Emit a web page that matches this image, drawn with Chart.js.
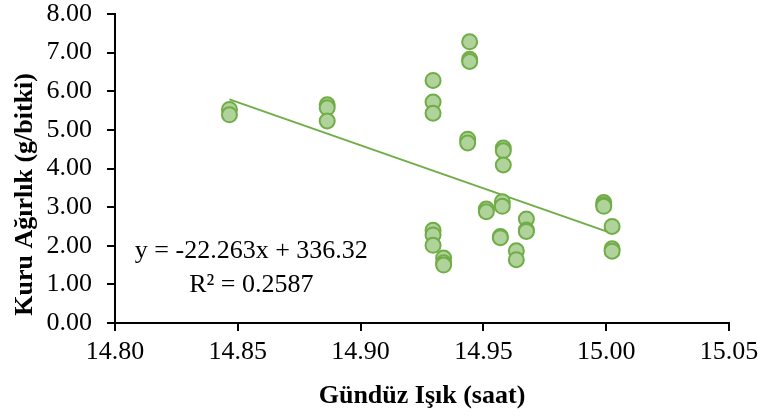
<!DOCTYPE html>
<html>
<head>
<meta charset="utf-8">
<script src="https://cdn.jsdelivr.net/npm/chart.js@4.4.1/dist/chart.umd.min.js"></script>
<style>
  body { margin: 0; background: #fff; }
  #c { display: block; }
</style>
</head>
<body>
<canvas id="c" width="760" height="417"></canvas>
<script>
// gündüz ışık süresi (saat) ve kuru ağırlık (g/bitki)
var gunduzIsik = [
	14.8466, 14.8466,
	14.8864, 14.8864, 14.8864,
	14.9295, 14.9295, 14.9295, 14.9295, 14.9295, 14.9295,
	14.9338, 14.9338, 14.9338,
	14.9444, 14.9444, 14.9444, 14.9436, 14.9436,
	14.9512, 14.9512,
	14.9569, 14.9569, 14.9577, 14.9577,
	14.9581, 14.9581, 14.9581,
	14.9634, 14.9634,
	14.9675, 14.9675, 14.9675,
	14.9990, 14.9990, 14.9990,
	15.0024, 15.0024, 15.0024
];
var kuruAgirlik = [
	5.53, 5.39,
	5.65, 5.57, 5.23,
	6.28, 5.72, 5.43, 2.40, 2.28, 2.01,
	1.68, 1.56, 1.50,
	7.28, 6.83, 6.77, 4.76, 4.66,
	2.95, 2.88,
	2.24, 2.21, 3.14, 3.02,
	4.53, 4.46, 4.09,
	1.87, 1.64,
	2.69, 2.41, 2.37,
	3.12, 3.06, 3.02,
	2.50, 1.92, 1.86
];
// doğrusal trend çizgisinin uçları
var trendX = [14.8466, 15.0024];
var trendY = [5.79, 2.32];
var denklem = ['y = -22.263x + 336.32', 'R² = 0.2587'];
var yBaslik = 'Kuru Ağırlık (g/bitki)';
var xBaslik = 'Gündüz Işık (saat)';

var xMin = 14.80, xMax = 15.05, xStep = 0.05;
var yMin = 0, yMax = 8, yStep = 1;

var noktalar = gunduzIsik.map(function(v, i){ return {x: v, y: kuruAgirlik[i]}; });
var trend = trendX.map(function(v, i){ return {x: v, y: trendY[i]}; });

var serif = '"Liberation Serif", "Times New Roman", serif';

var yaziPlugin = {
	id: 'yazilar',
	afterDraw: function(chart){
		var c = chart.ctx;
		var xs = chart.scales.x, ys = chart.scales.y;
		var cx = xs.getPixelForValue(14.8555);
		c.save();
		c.fillStyle = '#000';
		c.font = '26px ' + serif;
		c.textAlign = 'center';
		c.textBaseline = 'alphabetic';
		c.fillText(denklem[0], cx, ys.getPixelForValue(1.69));
		c.fillText(denklem[1], cx, ys.getPixelForValue(0.81));
		// dikey eksen başlığı
		c.translate(25, ys.getPixelForValue(3.33));
		c.rotate(-Math.PI / 2);
		c.font = 'bold 26px ' + serif;
		c.textBaseline = 'middle';
		c.fillText(yBaslik, 0, 0);
		c.restore();
	}
};

var ctx = document.getElementById('c');
var grafik = new Chart(ctx, {
	type: 'scatter',
	data: {
		datasets: [{
			label: 'Kuru Ağırlık',
			data: noktalar,
			pointRadius: 7.5,
			pointHoverRadius: 7.5,
			pointBorderWidth: 2,
			pointBackgroundColor: '#AFD39A',
			pointBorderColor: '#70AD47',
			order: 1
		}, {
			type: 'line',
			label: 'Trend',
			data: trend,
			showLine: true,
			borderColor: '#70AD47',
			borderWidth: 2,
			pointRadius: 0,
			fill: false,
			order: 2
		}]
	},
	options: {
		responsive: false,
		animation: false,
		layout: { padding: { left: 0, right: 31, top: 14, bottom: 0 } },
		plugins: {
			legend: { display: false },
			tooltip: { enabled: false }
		},
		scales: {
			x: {
				type: 'linear',
				min: xMin, max: xMax,
				afterFit: function(s){
					s.height = 94;
					s.paddingLeft = 0; s.paddingRight = 0;
				},
				afterBuildTicks: function(s){
					var t = [];
					for (var v = xMin; v <= xMax + 1e-9; v += xStep) t.push({value: +v.toFixed(2)});
					s.ticks = t;
				},
				ticks: {
					color: '#000',
					padding: 8,
					maxRotation: 0,
					font: { family: serif, size: 26, lineHeight: 1 },
					callback: function(v){ return Number(v).toFixed(2); }
				},
				grid: { drawOnChartArea: false, drawTicks: true, tickLength: 8, color: '#000', lineWidth: 2 },
				border: { display: true, color: '#000', width: 2 },
				title: {
					display: true,
					text: xBaslik,
					color: '#000',
					font: { family: serif, size: 26, weight: 'bold' },
					padding: { top: 0, bottom: 5 }
				}
			},
			y: {
				min: yMin, max: yMax,
				afterFit: function(s){
					s.width = 115;
					s.paddingTop = 0; s.paddingBottom = 0;
				},
				ticks: {
					stepSize: yStep,
					color: '#000',
					padding: 15,
					font: { family: serif, size: 26, lineHeight: 1 },
					callback: function(v){ return Number(v).toFixed(2); }
				},
				grid: { drawOnChartArea: false, drawTicks: true, tickLength: 8, color: '#000', lineWidth: 2 },
				border: { display: true, color: '#000', width: 2 },
				title: { display: false }
			}
		}
	},
	plugins: [yaziPlugin]
});
</script>
</body>
</html>
